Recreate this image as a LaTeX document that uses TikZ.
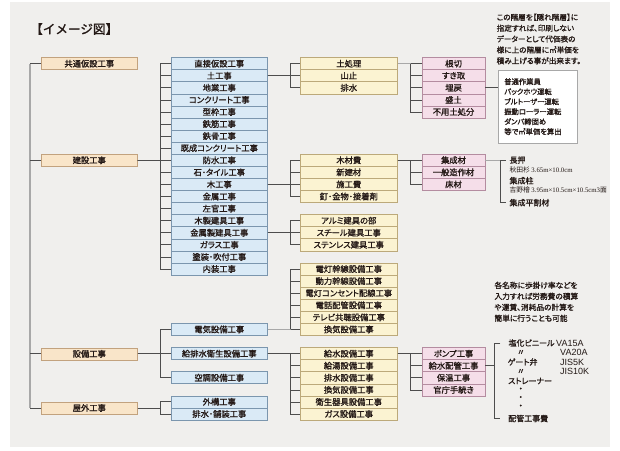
\documentclass[tikz,border=0pt]{standalone}
\usepackage{fontspec}
\setmainfont{Noto Sans CJK JP}[RawFeature=+palt, BoldFont={Noto Sans CJK JP}, BoldFeatures={FakeBold=1.2}]
\newfontfamily\jpfull{Noto Sans CJK JP}[BoldFont={Noto Sans CJK JP}, BoldFeatures={FakeBold=1.2}]
\newfontfamily\lsans{Liberation Sans}
\newfontfamily\lserif{Liberation Serif}
\definecolor{bgc}{HTML}{F0EFED}
\definecolor{peachF}{HTML}{F9E5C9}
\definecolor{peachD}{HTML}{C2A27E}
\definecolor{blueF}{HTML}{DAEAF6}
\definecolor{blueD}{HTML}{7B96AE}
\definecolor{yelF}{HTML}{FBF3D2}
\definecolor{yelD}{HTML}{BCA97A}
\definecolor{pinkF}{HTML}{F5DEE9}
\definecolor{pinkD}{HTML}{B48CA0}
\definecolor{lineD}{HTML}{4D4D4D}
\definecolor{lineL}{HTML}{A8A8A8}
\definecolor{txt}{HTML}{231815}
\tikzset{
 base/.style={anchor=north west, minimum height=12.08pt, inner sep=0pt, line width=0.6pt, text=txt, font=\bfseries\fontsize{8.3}{9}\selectfont},
 peach/.style={base, fill=peachF, draw=peachD, minimum width=96pt},
 bluebox/.style={base, fill=blueF, draw=blueD, minimum width=96pt},
 yel/.style={base, fill=yelF, draw=yelD, minimum width=97pt},
 pinkbox/.style={base, fill=pinkF, draw=pinkD, minimum width=62.5pt},
 conn/.style={draw=lineD, line width=0.7pt},
 connL/.style={draw=lineL, line width=1.4pt},
 spine/.style={draw=lineL, line width=1.5pt},
 lbl/.style={anchor=west, inner sep=0pt, text=txt, font=\bfseries\fontsize{8}{9}\selectfont},
 small/.style={anchor=west, inner sep=0pt, text=txt, font=\fontsize{6.8}{7}\selectfont},
 note/.style={anchor=north west, inner sep=0pt, align=left, text=txt},
 ltr/.style={anchor=west, inner sep=0pt, text=txt, font=\lsans\fontsize{9}{10}\selectfont}
}
\begin{document}
\begin{tikzpicture}[x=1pt,y=-1pt]
\useasboundingbox (0,0) rectangle (620,450);
\fill[bgc] (10,2) rectangle (610,447);

% title
\node[anchor=west, inner sep=0pt, text=txt, font=\jpfull\bfseries\fontsize{12.6}{14}\selectfont] (title) at (30,29) {【イメージ図】};

% column 1
\node[peach] (p1) at (41,57.3) {共通仮設工事};
\node[peach] (p2) at (41,153.9) {建設工事};
\node[peach] (p3) at (41,347.5) {設備工事};
\node[peach] (p4) at (41,401.6) {屋外工事};
\draw[spine] ([xshift=-11pt]p1.west) -- ([xshift=-11pt]p4.west);
\foreach \p in {p1,p2,p3,p4} \draw[conn] (\p.west) -- ++(-11,0);

% column 2
\foreach \t [count=\i from 0] in {直接仮設工事,土工事,地業工事,コンクリート工事,型枠工事,鉄筋工事,鉄骨工事,既成コンクリート工事,防水工事,石･タイル工事,木工事,金属工事,左官工事,木製建具工事,金属製建具工事,ガラス工事,塗装･吹付工事,内装工事}
  \node[bluebox] (b\i) at ({171},{57.3+\i*12.08}) {\t};
\foreach \i in {0,...,17} \draw[conn] (p2.east) -- ++(23,0) |- (b\i.west);

\node[bluebox] (c0) at (171,323.1) {電気設備工事};
\node[bluebox] (c1) at (171,347.3) {給排水衛生設備工事};
\node[bluebox] (c2) at (171,371.4) {空調設備工事};
\node[bluebox] (c3) at (171,395.5) {外構工事};
\node[bluebox] (c4) at (171,407.6) {排水･舗装工事};
\foreach \c in {c0,c1,c2} \draw[conn] (p3.east) -- ++(23,0) |- (\c.west);
\foreach \c in {c3,c4} \draw[conn] (p4.east) -- ++(23,0) |- (\c.west);

% column 3
\foreach \t [count=\i from 0] in {土処理,山止,排水}
  \node[yel] (s\i) at ({300},{57.3+\i*12.08}) {\t};
\foreach \t [count=\i from 0] in {木材費,新建材,施工費,釘･金物･接着剤}
  \node[yel] (w\i) at ({300},{153.9+\i*12.08}) {\t};
\foreach \t [count=\i from 0] in {アルミ建具の部,スチール建具工事,ステンレス建具工事}
  \node[yel] (m\i) at ({300},{214.3+\i*12.08}) {\t};
\foreach \t [count=\i from 0] in {電灯幹線設備工事,動力幹線設備工事,電灯コンセント配線工事,電話配管設備工事,テレビ共聴設備工事,換気設備工事}
  \node[yel] (el\i) at ({300},{262.7+\i*12.08}) {\t};
\foreach \t [count=\i from 0] in {給水設備工事,給湯設備工事,排水設備工事,換気設備工事,衛生器具設備工事,ガス設備工事}
  \node[yel] (pl\i) at ({300},{347.3+\i*12.08}) {\t};

\foreach \i in {0,1,2} \draw[conn] (b1.east) -- ++(23,0) |- (s\i.west);
\foreach \i in {0,...,3} \draw[conn] (b10.east) -- ++(23,0) |- (w\i.west);
\foreach \i in {0,1,2} \draw[conn] (b14.east) -- ++(23,0) |- (m\i.west);
\draw[connL] (c0.east) -- ++(23,0);
\foreach \i in {0,...,5} \draw[conn] (c0.east) ++(23,0) |- (el\i.west);
\foreach \i in {0,...,5} \draw[conn] (c1.east) -- ++(23,0) |- (pl\i.west);

% column 4
\foreach \t [count=\i from 0] in {根切,すき取,埋戻,盛土,不用土処分}
  \node[pinkbox] (k\i) at ({422},{57.3+\i*12.08}) {\t};
\foreach \t [count=\i from 0] in {集成材,一般造作材,床材}
  \node[pinkbox] (g\i) at ({422},{153.9+\i*12.08}) {\t};
\foreach \t [count=\i from 0] in {ポンプ工事,給水配管工事,保温工事,官庁手続き}
  \node[pinkbox] (pm\i) at ({422},{347.3+\i*12.08}) {\t};

\draw[connL] (s0.east) -- ++(13,0);
\foreach \i in {0,...,4} \draw[conn] (s0.east) ++(13,0) |- (k\i.west);
\foreach \i in {0,1,2} \draw[conn] (w0.east) -- ++(13,0) |- (g\i.west);
\foreach \i in {0,...,3} \draw[conn] (pl0.east) -- ++(13,0) |- (pm\i.west);

% top note
\node[note, font=\bfseries\fontsize{7.6}{10.9}\selectfont] (note1) at (496.5,13.5)
 {この階層を【隠れ階層】に\\指定すれば、印刷しない\\データーとして代価表の\\様に上の階層に㎡単価を\\積み上げる事が出来ます。};

% white box
\node[anchor=north west, draw=lineL, fill=white, line width=0.6pt, text=txt,
      minimum width=79.6pt, minimum height=72.7pt, text width=67pt, inner xsep=6.3pt,
      align=left, font=\bfseries\fontsize{7.3}{10}\selectfont] (wb) at (497.7,70)
 {普通作業員\\バックホウ運転\\ブルトーザー運転\\振動ローラー運転\\ダンパ締固め\\等で㎡単価を算出};
\draw[conn] (k2.east) -- (k2.east -| wb.west);

% timber list
\coordinate (jt) at (500,0);
\node[lbl] (t1) at (509.3,160) {長押};
\node[small] (t2) at (509.3,169.6) {秋田杉 {\lserif 3.65m×10.0cm}};
\node[lbl] (t3) at (509.3,180.7) {集成柱};
\node[small] (t4) at (509.3,190.4) {吉野檜 {\lserif 3.95m×10.5cm×10.5cm3}面};
\node[lbl] (t5) at (509.3,202.7) {集成平割材};
\draw[connL] (g0.east) -- (jt |- g0.east);
\draw[conn] (jt |- t1.west) -- ([xshift=-3pt]t1.west);
\draw[conn] (jt |- t1.west) |- ([xshift=-3pt]t5.west);

% bottom note
\node[note, font=\bfseries\fontsize{7.7}{11}\selectfont] (note2) at (494.3,281.5)
 {各名称に歩掛け率などを\\入力すれば労務費の積算\\や運賃、消耗品の計算を\\簡単に行うことも可能};

% pipe list
\coordinate (jp) at (494.3,0);
\node[lbl] (q1) at (508.3,343) {塩化ビニール};
\node[ltr] (q1b) at (556,343) {VA15A};
\node[lbl] (q2) at (516.7,352.5) {〃};
\node[ltr] (q2b) at (560,352.5) {VA20A};
\node[lbl] (q3) at (507.5,362) {ゲート弁};
\node[ltr] (q3b) at (560,362) {JIS5K};
\node[lbl] (q4) at (516.7,371.5) {〃};
\node[ltr] (q4b) at (560,371.5) {JIS10K};
\node[lbl] (q5) at (508,381) {ストレーナー};
\node[lbl, font=\bfseries\fontsize{10}{10}\selectfont] (q6) at (518,390) {･};
\node[lbl, font=\bfseries\fontsize{10}{10}\selectfont] (q7) at (518,398.5) {･};
\node[lbl, font=\bfseries\fontsize{10}{10}\selectfont] (q8) at (518,407) {･};
\node[lbl] (q9) at (508,418.5) {配管工事費};
\draw[conn] (pm1.east) -- (jp |- pm1.east);
\draw[conn] ([xshift=-8pt]q1.west) -- (jp |- q1.west) -- (jp |- q9.west) -- ([xshift=-8pt]q9.west);
\end{tikzpicture}
\end{document}
